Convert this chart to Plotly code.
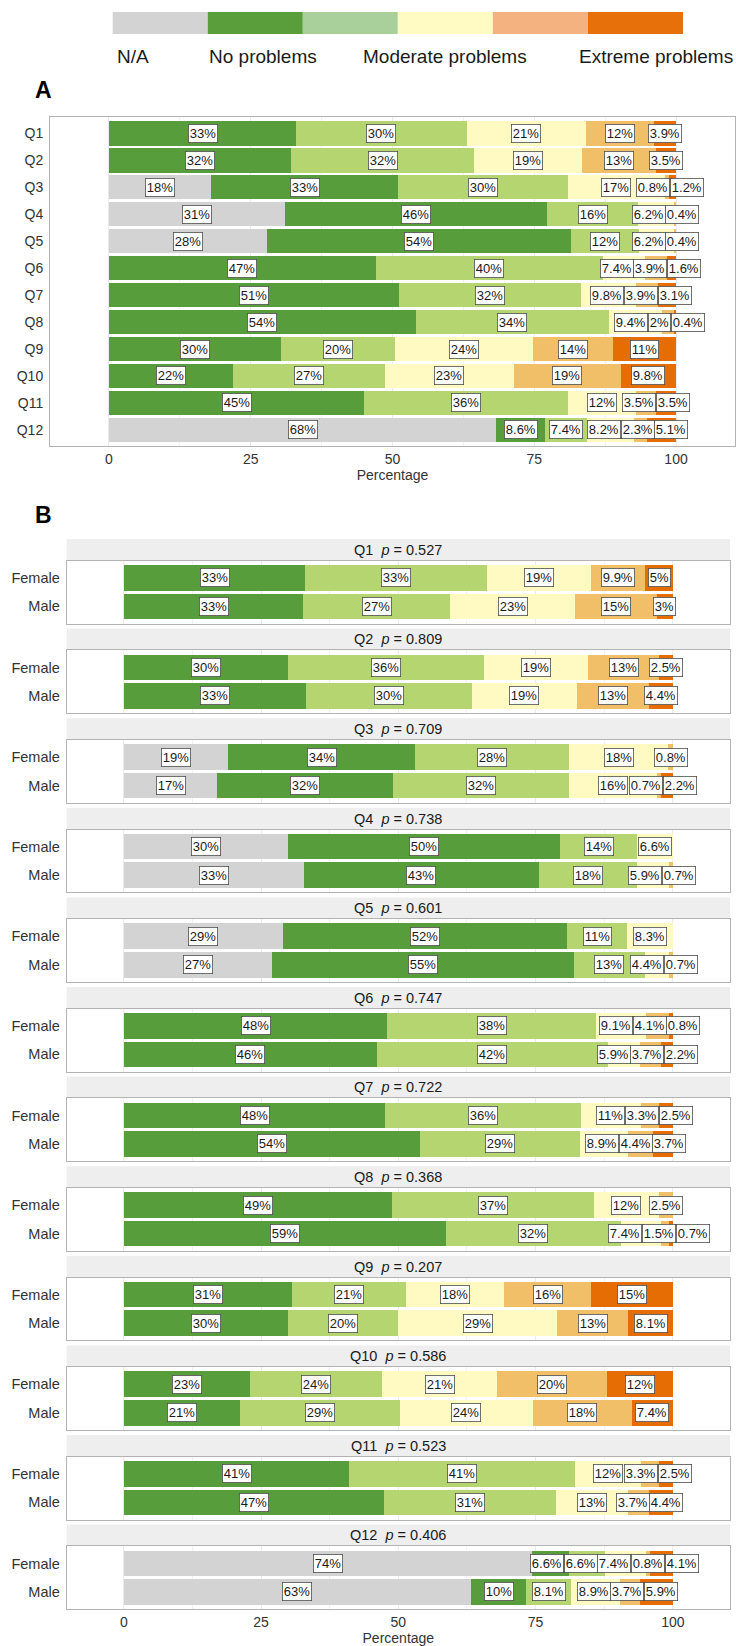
import plotly.graph_objects as go

W, H = 736, 1646
FONT = "Liberation Sans, Arial, sans-serif"

# ---------------- data ----------------
categories = ["N/A", "No problems", "Mild problems", "Moderate problems",
              "Severe problems", "Extreme problems"]
bar_colors = ["#d3d3d3", "#579d3c", "#b5d570", "#fffac2", "#f1bf67", "#e56d04"]
legend_colors = ["#d3d3d3", "#5a9e3c", "#a9cf9a", "#fffbc2", "#f3b27f", "#e8700a"]
legend_labels = ["N/A", "No problems", "Moderate problems", "Extreme problems"]

questions = ["Q1", "Q2", "Q3", "Q4", "Q5", "Q6", "Q7", "Q8", "Q9", "Q10", "Q11", "Q12"]

# Panel A (all respondents), percentages per category
A_na       = [0, 0, 18, 31, 28, 0, 0, 0, 0, 0, 0, 68]
A_none     = [33, 32, 33, 46, 54, 47, 51, 54, 30, 22, 45, 8.6]
A_mild     = [30, 32, 30, 16, 12, 40, 32, 34, 20, 27, 36, 7.4]
A_moderate = [21, 19, 17, 6.2, 6.2, 7.4, 9.8, 9.4, 24, 23, 12, 8.2]
A_severe   = [12, 13, 0.8, 0.4, 0.4, 3.9, 3.9, 2, 14, 19, 3.5, 2.3]
A_extreme  = [3.9, 3.5, 1.2, 0, 0, 1.6, 3.1, 0.4, 11, 9.8, 3.5, 5.1]

# Panel B (by sex)
sexes = ["Female", "Male"]
F_na       = [0, 0, 19, 30, 29, 0, 0, 0, 0, 0, 0, 74]
F_none     = [33, 30, 34, 50, 52, 48, 48, 49, 31, 23, 41, 6.6]
F_mild     = [33, 36, 28, 14, 11, 38, 36, 37, 21, 24, 41, 6.6]
F_moderate = [19, 19, 18, 6.6, 8.3, 9.1, 11, 12, 18, 21, 12, 7.4]
F_severe   = [9.9, 13, 0.8, 0, 0, 4.1, 3.3, 2.5, 16, 20, 3.3, 0.8]
F_extreme  = [5, 2.5, 0, 0, 0, 0.8, 2.5, 0, 15, 12, 2.5, 4.1]

M_na       = [0, 0, 17, 33, 27, 0, 0, 0, 0, 0, 0, 63]
M_none     = [33, 33, 32, 43, 55, 46, 54, 59, 30, 21, 47, 10]
M_mild     = [27, 30, 32, 18, 13, 42, 29, 32, 20, 29, 31, 8.1]
M_moderate = [23, 19, 16, 5.9, 4.4, 5.9, 8.9, 7.4, 29, 24, 13, 8.9]
M_severe   = [15, 13, 0.7, 0.7, 0.7, 3.7, 4.4, 1.5, 13, 18, 3.7, 3.7]
M_extreme  = [3, 4.4, 2.2, 0, 0, 2.2, 3.7, 0.7, 8.1, 7.4, 4.4, 5.9]

p_values = [0.527, 0.809, 0.709, 0.738, 0.601, 0.747, 0.722, 0.368, 0.207, 0.586, 0.523, 0.406]

x_ticks = [0, 25, 50, 75, 100]
x_ticktext = ["0", "25", "50", "75", "100"]

A_cols = [A_na, A_none, A_mild, A_moderate, A_severe, A_extreme]
F_cols = [F_na, F_none, F_mild, F_moderate, F_severe, F_extreme]
M_cols = [M_na, M_none, M_mild, M_moderate, M_severe, M_extreme]

# ---------------- helpers ----------------
XR = [-10.4, 110.4]


def py(px):
    return 1 - px / H


def pxx(px):
    return px / W


def normalize(row):
    tot = sum(row)
    return [v / tot * 100 for v in row]


CHW = {"0": .556, "1": .556, "2": .556, "3": .556, "4": .556, "5": .556,
       "6": .556, "7": .556, "8": .556, "9": .556, ".": .278, "%": .889}
LBL_SIZE = 13


def label_width_px(t):
    return sum(CHW.get(c, .556) for c in t) * LBL_SIZE + 4.0


def repel(centers, widths):
    clusters = []
    for c, w in zip(centers, widths):
        clusters.append({"c": [c], "w": [w]})
        while True:
            cl = clusters[-1]
            cum = 0
            offs = []
            for ww in cl["w"]:
                offs.append(cum + ww / 2)
                cum += ww
            cl["L"] = sum(ci - oi for ci, oi in zip(cl["c"], offs)) / len(cl["c"])
            cl["R"] = cl["L"] + cum
            cl["offs"] = offs
            if len(clusters) >= 2 and clusters[-2]["R"] > cl["L"]:
                prev = clusters[-2]
                merged = {"c": prev["c"] + cl["c"], "w": prev["w"] + cl["w"]}
                clusters = clusters[:-2] + [merged]
            else:
                break
    pos = []
    for cl in clusters:
        pos += [cl["L"] + o for o in cl["offs"]]
    return pos


def row_labels(raw, ppu):
    shares = normalize(raw)
    cum = 0
    centers, texts, widths = [], [], []
    for v, s in zip(raw, shares):
        if v > 0:
            t = f"{v:g}%"
            centers.append(cum + s / 2)
            texts.append(t)
            widths.append(label_width_px(t) / ppu)
        cum += s
    return list(zip(repel(centers, widths), texts))


def label_ann(x, y, t, xref, yref):
    return dict(x=x, y=y, xref=xref, yref=yref, text=t, showarrow=False,
                font=dict(size=LBL_SIZE, color="#1a1a1a", family=FONT),
                bgcolor="white", bordercolor="#4d4d4d", borderwidth=0.8, borderpad=1,
                xanchor="center", yanchor="middle")


fig = go.Figure()
annotations = []
shapes = []

axis_font = dict(size=14, color="#333333", family=FONT)
GRID = "#ebebeb"
BORDER = "#b3b3b3"

# ---------------- panel A ----------------
A_left, A_right, A_top, A_bot = 50, 735, 117.3, 446
ppuA = (A_right - A_left) / (XR[1] - XR[0])

for ci, cat in enumerate(categories):
    xs = []
    for qi in range(len(questions)):
        row = [col[qi] for col in A_cols]
        xs.append(normalize(row)[ci])
    fig.add_trace(go.Bar(y=questions, x=xs, orientation="h", name=cat,
                         marker=dict(color=bar_colors[ci], line=dict(width=0)),
                         showlegend=False, hoverinfo="skip",
                         xaxis="x", yaxis="y"))

for qi, q in enumerate(questions):
    row = [col[qi] for col in A_cols]
    for x, t in row_labels(row, ppuA):
        annotations.append(label_ann(x, q, t, "x", "y"))

fig.update_layout(
    xaxis=dict(domain=[pxx(A_left), pxx(A_right)], range=XR, anchor="y",
               tickvals=x_ticks, ticktext=x_ticktext, tickfont=axis_font,
               showgrid=True, gridcolor=GRID, gridwidth=1,
               minor=dict(tickvals=[12.5, 37.5, 62.5, 87.5], showgrid=True,
                          gridcolor="#f2f2f2", gridwidth=0.6),
               showline=True, mirror=True, linecolor=BORDER, linewidth=1,
               zeroline=False, ticks="",
               title=dict(text="Percentage", font=axis_font, standoff=2)),
    yaxis=dict(domain=[py(A_bot), py(A_top)], anchor="x", type="category",
               categoryorder="array", categoryarray=questions,
               range=[len(questions) - 1 + 0.6, -0.6],
               tickfont=axis_font, showgrid=False, zeroline=False, ticks="",
               ticklabelstandoff=3,
               showline=True, mirror=True, linecolor=BORDER, linewidth=1),
)

# ---------------- panel B ----------------
B_left, B_right = 66.7, 730
ppuB = (B_right - B_left) / (XR[1] - XR[0])
STRIP_TOP0, STRIP_H, PANEL_H, PITCH = 539, 21.7, 62.8, 89.6

for k in range(len(questions)):
    ax = k + 2
    xname, yname = f"x{ax}", f"y{ax}"
    s_top = STRIP_TOP0 + PITCH * k
    p_top = s_top + STRIP_H
    p_bot = p_top + PANEL_H
    for ci, cat in enumerate(categories):
        rowF = [col[k] for col in F_cols]
        rowM = [col[k] for col in M_cols]
        xs = [normalize(rowF)[ci], normalize(rowM)[ci]]
        fig.add_trace(go.Bar(y=sexes, x=xs, orientation="h", name=cat,
                             marker=dict(color=bar_colors[ci], line=dict(width=0)),
                             showlegend=False, hoverinfo="skip",
                             xaxis=xname, yaxis=yname))
    for sex, cols in zip(sexes, [F_cols, M_cols]):
        row = [col[k] for col in cols]
        for x, t in row_labels(row, ppuB):
            annotations.append(label_ann(x, sex, t, xname, yname))
    last = (k == len(questions) - 1)
    fig.update_layout(**{
        f"xaxis{ax}": dict(domain=[pxx(B_left), pxx(B_right)], range=XR, anchor=yname,
                           tickvals=x_ticks, ticktext=x_ticktext, tickfont=axis_font,
                           showticklabels=last,
                           showgrid=True, gridcolor=GRID, gridwidth=1,
                           minor=dict(tickvals=[12.5, 37.5, 62.5, 87.5], showgrid=True,
                                      gridcolor="#f2f2f2", gridwidth=0.6),
                           showline=True, mirror=True, linecolor=BORDER, linewidth=1,
                           zeroline=False, ticks="",
                           title=dict(text="Percentage" if last else "",
                                      font=axis_font, standoff=2)),
        f"yaxis{ax}": dict(domain=[py(p_bot), py(p_top)], anchor=xname, type="category",
                           categoryorder="array", categoryarray=sexes,
                           range=[len(sexes) - 1 + 0.6, -0.6],
                           tickfont=dict(size=14.5, color="#333333", family=FONT),
                           showgrid=False, zeroline=False, ticks="",
                           ticklabelstandoff=3,
                           showline=True, mirror=True, linecolor=BORDER, linewidth=1),
    })
    # strip
    shapes.append(dict(type="rect", xref="paper", yref="paper",
                       x0=pxx(B_left), x1=pxx(B_right), y0=py(p_top - 0.5), y1=py(s_top),
                       fillcolor="#eeeeee", line=dict(width=0), layer="below"))
    annotations.append(dict(x=pxx((B_left + B_right) / 2), y=py(s_top + STRIP_H / 2),
                            xref="paper", yref="paper", showarrow=False,
                            text=f"{questions[k]}  <i>p</i> = {p_values[k]:.3f}",
                            font=dict(size=14.5, color="#1a1a1a", family=FONT),
                            xanchor="center", yanchor="middle"))

# ---------------- legend (colour key) ----------------
LEG_L, LEG_R, LEG_T, LEG_B = 112.7, 683, 12, 34
seg = (LEG_R - LEG_L) / len(categories)
for i, c in enumerate(legend_colors):
    shapes.append(dict(type="rect", xref="paper", yref="paper",
                       x0=pxx(LEG_L + i * seg), x1=pxx(LEG_L + (i + 1) * seg),
                       y0=py(LEG_B), y1=py(LEG_T), fillcolor=c, line=dict(width=0)))
legend_label_x = [115, 207, 361, 577]
for lx, t in zip(legend_label_x, legend_labels):
    annotations.append(dict(x=pxx(lx), y=py(57), xref="paper", yref="paper",
                            text=t, showarrow=False, xanchor="left", yanchor="middle",
                            font=dict(size=19, color="#1a1a1a", family=FONT)))

# panel letters
for txt, yy in [("A", 90), ("B", 515)]:
    annotations.append(dict(x=pxx(43), y=py(yy), xref="paper", yref="paper",
                            text=f"<b>{txt}</b>", showarrow=False,
                            xanchor="center", yanchor="middle",
                            font=dict(size=23, color="black", family=FONT)))

fig.update_layout(
    width=W, height=H, margin=dict(l=0, r=0, t=0, b=0),
    paper_bgcolor="white", plot_bgcolor="white",
    barmode="stack", bargap=0.1,
    annotations=annotations, shapes=shapes,
    font=dict(family=FONT),
)

fig.write_html("out.html")
